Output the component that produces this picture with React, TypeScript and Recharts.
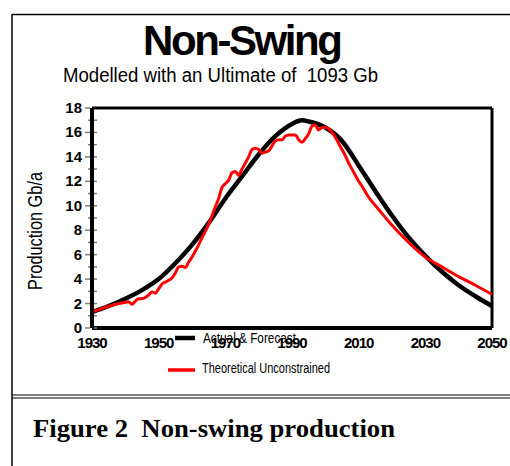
import { LineChart, Line, XAxis, YAxis, ReferenceLine, Legend } from 'recharts'

// Actual & Forecast (smooth fitted curve), Gb/a
const actualYears = [1930, 1935, 1940, 1945, 1950, 1955, 1960, 1965, 1970, 1975, 1980, 1985, 1990, 1993, 1995, 2000, 2005, 2010, 2015, 2020, 2025, 2030, 2035, 2040, 2045, 2050]
const actualValues = [1.3, 1.8, 2.4, 3.1, 4.0, 5.3, 6.8, 8.6, 10.6, 12.4, 14.2, 15.7, 16.7, 17.0, 16.9, 16.4, 15.3, 13.3, 11.2, 9.2, 7.4, 5.9, 4.6, 3.5, 2.6, 1.8]

// Theoretical Unconstrained, Gb/a
const theoryYears = [
  1930, 1932, 1934, 1936, 1938, 1940, 1941, 1942, 1943, 1944, 1945, 1946, 1947, 1948, 1949,
  1950, 1951, 1952, 1953, 1954, 1955, 1956, 1957, 1958, 1959, 1960, 1961, 1962, 1963, 1964,
  1965, 1966, 1967, 1968, 1969, 1970, 1971, 1972, 1973, 1974, 1975, 1976, 1977, 1978, 1979,
  1980, 1981, 1982, 1983, 1984, 1985, 1986, 1987, 1988, 1989, 1990, 1991, 1992, 1993, 1994,
  1995, 1996, 1997, 1998, 1999, 2000, 2001, 2002, 2003, 2004, 2005, 2006, 2007, 2008, 2009,
  2010, 2011, 2013, 2016, 2020, 2025, 2030, 2035, 2040, 2045, 2050,
]
const theoryValues = [
  1.3, 1.5, 1.7, 1.85, 2.0, 2.1, 2.15, 1.95, 2.2, 2.4, 2.4, 2.5, 2.7, 2.95, 2.85,
  3.2, 3.6, 3.75, 3.9, 4.1, 4.5, 5.0, 5.05, 4.95, 5.4, 5.8, 6.3, 6.8, 7.4, 7.9,
  8.5, 9.2, 9.9, 10.6, 11.5, 11.8, 12.1, 12.7, 12.8, 12.5, 13.0, 13.5, 14.0, 14.6, 14.7,
  14.6, 14.3, 14.4, 14.5, 14.9, 15.3, 15.4, 15.4, 15.7, 15.8, 15.8, 15.8, 15.4, 15.2, 15.5,
  15.9, 16.5, 16.6, 16.2, 16.4, 16.4, 16.3, 16.0, 15.6, 15.1, 14.6, 14.1, 13.5, 13.0, 12.5,
  12.0, 11.6, 10.7, 9.7, 8.4, 7.0, 5.8, 5.0, 4.2, 3.5, 2.75,
]

const xTicks = [1930, 1950, 1970, 1990, 2010, 2030, 2050]
const yTicks = [0, 1, 2, 3, 4, 5, 6, 7, 8, 9, 10, 11, 12, 13, 14, 15, 16, 17, 18]

const actual = actualYears.map((year, i) => ({ year, value: actualValues[i] }))
const theory = theoryYears.map((year, i) => ({ year, value: theoryValues[i] }))

const sans = '"Liberation Sans", Arial, sans-serif'

const YTick = ({ x, y, payload }: any) => {
  const major = payload.value % 2 === 0
  return (
    <g>
      <line x1={x - (major ? 7 : 4)} x2={x - 2} y1={y} y2={y} stroke="#7f7f7f" strokeWidth={1.5} />
      {payload.value !== 18 && (
        <line x1={x + 2} x2={x + 5} y1={y} y2={y} stroke="#7f7f7f" strokeWidth={1.5} />
      )}
      {major && (
        <text x={x - 10} y={y + 5} textAnchor="end" fontFamily={sans} fontWeight="bold" fontSize={15} fill="#000">
          {payload.value}
        </text>
      )}
    </g>
  )
}

const XTick = ({ x, y, payload }: any) => (
  <text x={x} y={y + 20} textAnchor="middle" fontFamily={sans} fontWeight="bold" fontSize={15} letterSpacing={-1} fill="#000">
    {payload.value}
  </text>
)

const renderLegend = ({ payload }: any) => {
  const rows = payload || []
  return (
    <svg width={240} height={56}>
      {rows.map((entry: any, i: number) => (
        <g key={entry.value}>
          <line
            x1={i === 0 ? 15 : 8}
            x2={35}
            y1={i === 0 ? 12 : 44}
            y2={i === 0 ? 12 : 44}
            stroke={entry.color}
            strokeWidth={i === 0 ? 4.5 : 3.5}
          />
          <text
            x={i === 0 ? 43 : 42}
            y={i === 0 ? 17 : 47}
            fontFamily={sans}
            fontSize={14}
            fill="#000"
            textLength={i === 0 ? 93 : 128}
            lengthAdjust="spacingAndGlyphs"
          >
            {entry.value}
          </text>
        </g>
      ))}
    </svg>
  )
}

export default function App() {
  return (
    <div style={{ position: 'absolute', left: 0, top: 0, width: 510, height: 466, background: '#fff' }}>
      <LineChart width={510} height={466} margin={{ top: 108, right: 18, bottom: 108, left: 52 }}>
        <XAxis
          dataKey="year"
          type="number"
          domain={[1930, 2050]}
          ticks={xTicks}
          interval={0}
          height={30}
          tickSize={0}
          tickMargin={0}
          tickLine={false}
          tick={(p: any) => <XTick {...p} />}
          axisLine={{ stroke: '#000', strokeWidth: 4 }}
          allowDataOverflow
        />
        <YAxis
          type="number"
          domain={[0, 18]}
          ticks={yTicks}
          interval={0}
          width={40}
          tickSize={0}
          tickMargin={0}
          tickLine={false}
          tick={(p: any) => <YTick {...p} />}
          axisLine={{ stroke: '#000', strokeWidth: 4 }}
        />
        <ReferenceLine y={18} stroke="#000" strokeWidth={3} />
        <ReferenceLine x={2050} stroke="#000" strokeWidth={3} />
        <Legend
          layout="vertical"
          align="center"
          verticalAlign="middle"
          wrapperStyle={{ left: 160, top: 326, width: 240, height: 56 }}
          content={renderLegend}
        />
        <Line
          data={actual}
          dataKey="value"
          name="Actual & Forecast"
          type="monotone"
          stroke="#000"
          strokeWidth={4.5}
          dot={false}
          isAnimationActive={false}
        />
        <Line
          data={theory}
          dataKey="value"
          name="Theoretical Unconstrained"
          type="monotone"
          stroke="#ff0000"
          strokeWidth={3}
          dot={false}
          isAnimationActive={false}
        />
      </LineChart>
      <svg width={510} height={466} style={{ position: 'absolute', left: 0, top: 0, pointerEvents: 'none' }}>
        <line x1={12} x2={510} y1={14.5} y2={14.5} stroke="#000" strokeWidth={1.5} />
        <line x1={12} x2={12} y1={14} y2={466} stroke="#000" strokeWidth={1.5} />
        <line x1={12} x2={510} y1={395} y2={395} stroke="#000" strokeWidth={1.2} />
        <line x1={12} x2={510} y1={398} y2={398} stroke="#000" strokeWidth={1.2} />
        <text x={243} y={55} textAnchor="middle" fontFamily={sans} fontWeight="bold" fontSize={42} textLength={200} lengthAdjust="spacing" fill="#000">
          Non-Swing
        </text>
        <text x={63} y={82} fontFamily={sans} fontSize={20} textLength={315} lengthAdjust="spacingAndGlyphs" fill="#000" style={{ whiteSpace: 'pre' }}>
          {'Modelled with an Ultimate of  1093 Gb'}
        </text>
        <text
          x={0}
          y={0}
          transform="translate(42,231) rotate(-90)"
          textAnchor="middle"
          fontFamily={sans}
          fontSize={20}
          textLength={118}
          lengthAdjust="spacingAndGlyphs"
          fill="#000"
        >
          Production Gb/a
        </text>
        <text x={33} y={437} fontFamily='"Liberation Serif", "Times New Roman", serif' fontWeight="bold" fontSize={26} textLength={362} lengthAdjust="spacingAndGlyphs" fill="#000" style={{ whiteSpace: 'pre' }}>
          {'Figure 2  Non-swing production'}
        </text>
      </svg>
    </div>
  )
}
